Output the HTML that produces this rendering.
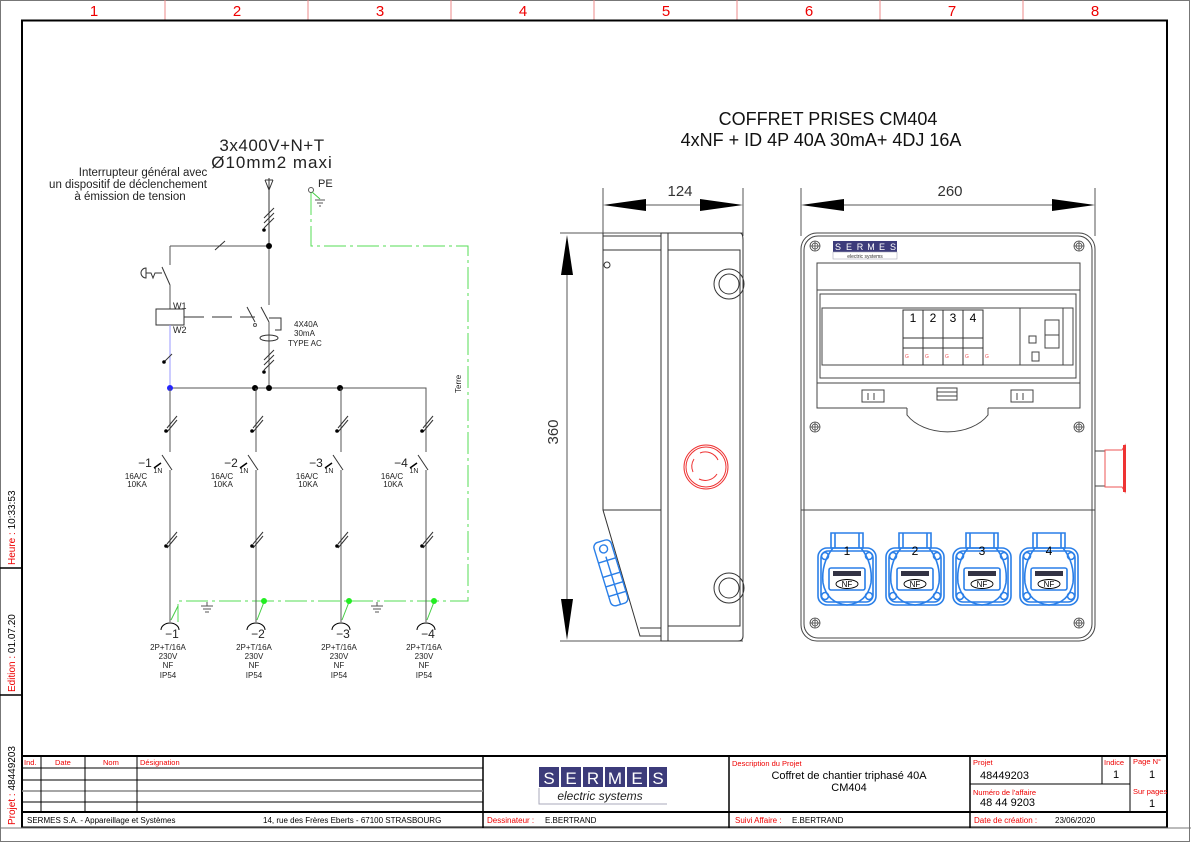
<!DOCTYPE html>
<html><head><meta charset="utf-8"><style>
html,body{margin:0;padding:0;background:#fff}
svg{display:block}
text{font-family:"Liberation Sans",sans-serif}
</style></head><body>
<svg width="1191" height="842" viewBox="0 0 1191 842" xmlns="http://www.w3.org/2000/svg">
<defs>
<g id="br" fill="none" stroke="#555" stroke-width="1">
 <line x1="0" y1="388" x2="0" y2="452"/>
 <line x1="-3" y1="432" x2="7" y2="420" stroke="#333"/><line x1="-3" y1="428" x2="7" y2="416" stroke="#333"/>
 <circle cx="-4" cy="431" r="1.8" fill="#000" stroke="none"/>
 <line x1="-8" y1="455" x2="2" y2="470" stroke="#333"/>
 <path d="M-16 468 L-9 463" stroke="#000" stroke-width="1.5"/>
 <line x1="0" y1="470" x2="0" y2="622"/>
 <line x1="-3" y1="548" x2="7" y2="536" stroke="#333"/><line x1="-3" y1="544" x2="7" y2="532" stroke="#333"/>
 <circle cx="-4" cy="546" r="1.8" fill="#000" stroke="none"/>
 <path d="M-9 630 A9 7 0 0 1 9 630" stroke="#000"/>
</g>
<g id="screw" fill="none" stroke="#444" stroke-width="0.8">
 <circle r="5"/><circle r="3"/><line x1="-5" y1="0" x2="5" y2="0"/><line x1="0" y1="-5" x2="0" y2="5"/>
</g>
<g id="sock" fill="none" stroke="#2a7fe8" stroke-width="1.6">
 <rect x="-29" y="15" width="58" height="57" rx="9"/>
 <rect x="-26" y="18" width="52" height="51" rx="7"/>
 <path d="M-16 0 H16 V15 H-16 Z"/>
 <path d="M-12 0 V15 M12 0 V15"/>
 <circle cx="-22" cy="23" r="3.5"/><circle cx="22" cy="23" r="3.5"/>
 <circle cx="-22" cy="63" r="3.5"/><circle cx="22" cy="63" r="3.5"/>
 <path d="M-14 15 Q-26 30 -24 50 Q-20 70 0 72 Q20 70 24 50 Q26 30 14 15"/>
 <rect x="-18" y="35" width="36" height="22" rx="2"/>
 <rect x="-14" y="38" width="28" height="5" fill="#334" stroke="none"/>
 <ellipse cx="0" cy="51" rx="11" ry="4.5" stroke="#000" stroke-width="0.9"/>
</g>
</defs>

<rect x="0.5" y="0.5" width="1189" height="841" fill="none" stroke="#777" stroke-width="1"/>
<g stroke="#e88" stroke-width="1">
 <line x1="165" y1="0" x2="165" y2="20"/><line x1="308" y1="0" x2="308" y2="20"/><line x1="451" y1="0" x2="451" y2="20"/>
 <line x1="594" y1="0" x2="594" y2="20"/><line x1="737" y1="0" x2="737" y2="20"/><line x1="880" y1="0" x2="880" y2="20"/><line x1="1023" y1="0" x2="1023" y2="20"/>
</g>
<g fill="#e00" font-size="15" text-anchor="middle">
 <text x="94" y="16">1</text><text x="237" y="16">2</text><text x="380" y="16">3</text><text x="523" y="16">4</text>
 <text x="666" y="16">5</text><text x="809" y="16">6</text><text x="952" y="16">7</text><text x="1095" y="16">8</text>
</g>
<rect x="22" y="20.5" width="1145" height="807" fill="none" stroke="#000" stroke-width="2"/>
<line x1="0" y1="828" x2="1191" y2="828" stroke="#777"/>
<g stroke="#000" stroke-width="1.5"><line x1="0" y1="568" x2="22" y2="568"/><line x1="0" y1="695" x2="22" y2="695"/></g>
<g font-size="10">
 <text transform="translate(15,565) rotate(-90)"><tspan fill="#e00">Heure :  </tspan><tspan fill="#000"> 10:33:53</tspan></text>
 <text transform="translate(15,692) rotate(-90)"><tspan fill="#e00">Edition :  </tspan><tspan fill="#000"> 01.07.20</tspan></text>
 <text transform="translate(15,825) rotate(-90)"><tspan fill="#e00">Projet : </tspan><tspan fill="#000">48449203</tspan></text>
</g>

<g fill="none" stroke="#000" stroke-width="1">
 <line x1="22" y1="756" x2="1167" y2="756" stroke-width="2"/>
 <line x1="22" y1="812" x2="1167" y2="812" stroke-width="2"/>
 <line x1="483" y1="756" x2="483" y2="828" stroke-width="1.5"/>
 <line x1="729" y1="756" x2="729" y2="828" stroke-width="1.5"/>
 <line x1="970" y1="756" x2="970" y2="828" stroke-width="1.5"/>
 <line x1="22" y1="768" x2="483" y2="768"/>
 <line x1="22" y1="780" x2="483" y2="780"/>
 <line x1="22" y1="791" x2="483" y2="791" stroke="#888" stroke-width="1.5"/>
 <line x1="22" y1="802" x2="483" y2="802"/>
 <line x1="41" y1="756" x2="41" y2="812"/>
 <line x1="85" y1="756" x2="85" y2="812"/>
 <line x1="137" y1="756" x2="137" y2="812"/>
 <line x1="970" y1="784" x2="1130" y2="784"/>
 <line x1="1102" y1="756" x2="1102" y2="784"/>
 <line x1="1130" y1="756" x2="1130" y2="812"/>
</g>
<g fill="#e00" font-size="7.5">
 <text x="24" y="765">Ind.</text><text x="55" y="765">Date</text><text x="103" y="765">Nom</text><text x="140" y="765">Désignation</text>
 <text x="732" y="766">Description du Projet</text>
 <text x="973" y="765">Projet</text>
 <text x="1104" y="765">Indice</text><text x="1133" y="764">Page N°</text>
 <text x="973" y="795">Numéro de l'affaire</text><text x="1133" y="794">Sur pages</text>
 <text x="487" y="823" font-size="8">Dessinateur :</text>
 <text x="735" y="823" font-size="8">Suivi Affaire :</text>
 <text x="974" y="823" font-size="8">Date de création :</text>
</g>
<g fill="#000" font-size="8">
 <text x="27" y="823">SERMES S.A. - Appareillage et Systèmes</text>
 <text x="263" y="823">14, rue des Frères Eberts - 67100 STRASBOURG</text>
 <text x="545" y="823">E.BERTRAND</text>
 <text x="792" y="823">E.BERTRAND</text>
 <text x="1055" y="823">23/06/2020</text>
</g>
<g fill="#000" font-size="11">
 <text x="849" y="779" text-anchor="middle">Coffret de chantier triphasé 40A</text>
 <text x="849" y="791" text-anchor="middle">CM404</text>
 <text x="980" y="779">48449203</text>
 <text x="980" y="806">48 44 9203</text>
 <text x="1116" y="778" text-anchor="middle">1</text>
 <text x="1152" y="778" text-anchor="middle">1</text>
 <text x="1152" y="807" text-anchor="middle">1</text>
</g>
<g>
 <rect x="539" y="767" width="128" height="20" fill="#fff"/>
 <g fill="#3c3b7a">
  <rect x="539" y="767" width="20" height="20"/><rect x="561" y="767" width="20" height="20"/><rect x="583" y="767" width="20" height="20"/>
  <rect x="605" y="767" width="20" height="20"/><rect x="627" y="767" width="20" height="20"/><rect x="649" y="767" width="18" height="20"/>
 </g>
 <g fill="#fff" font-size="17" text-anchor="middle">
  <text x="549" y="784">S</text><text x="571" y="784">E</text><text x="593" y="784">R</text><text x="615" y="784">M</text><text x="637" y="784">E</text><text x="658" y="784">S</text>
 </g>
 <path d="M539 788 V804 H667" fill="none" stroke="#aab" stroke-width="1"/>
 <text x="600" y="800" font-size="12" font-style="italic" text-anchor="middle" fill="#222">electric systems</text>
</g>

<g fill="#222">
 <text x="272" y="151" font-size="17" text-anchor="middle" letter-spacing="0.5">3x400V+N+T</text>
 <text x="272" y="168" font-size="17" text-anchor="middle" letter-spacing="1">Ø10mm2  maxi</text>
 <text x="143" y="176" font-size="11.5" text-anchor="middle">Interrupteur général avec</text>
 <text x="128" y="188" font-size="11.5" text-anchor="middle">un dispositif de déclenchement</text>
 <text x="130" y="200" font-size="11.5" text-anchor="middle">à émission de tension</text>
 <text x="318" y="187" font-size="11">PE</text>
 <text x="294" y="327" font-size="8">4X40A</text>
 <text x="294" y="336" font-size="8">30mA</text>
 <text x="288" y="346" font-size="8">TYPE  AC</text>
 <text x="173" y="309" font-size="9">W1</text>
 <text x="173" y="333" font-size="9">W2</text>
 <text transform="translate(461,393) rotate(-90)" font-size="8">Terre</text>
</g>
<g fill="none" stroke="#555" stroke-width="1">
 <path d="M265 180 L269 190 L273 180 M265 180 H273 M269 178 V246" stroke="#333"/>
 <path d="M264 218 L274 208 M264 223 L274 213 M264 228 L274 218" stroke="#333"/>
 <line x1="269" y1="246" x2="269" y2="305"/>
 <line x1="170" y1="246" x2="269" y2="246"/>
 <line x1="215" y1="250" x2="225" y2="241" stroke="#333"/>
 <line x1="170" y1="246" x2="170" y2="265"/>
 <line x1="162" y1="267" x2="170" y2="285" stroke="#333"/>
 <path d="M146 268 A5 5 0 0 0 146 278 Z M146 273 H151 L153 278 L155 273 H162" stroke="#333"/>
 <line x1="170" y1="285" x2="170" y2="309"/>
 <rect x="156" y="309" width="28" height="16" stroke="#333"/>
 <path d="M184 317 H204 M212 317 H232 M240 317 H255" stroke="#333"/>
 <line x1="170" y1="325" x2="170" y2="388" stroke="#99f"/>
 <line x1="164" y1="362" x2="172" y2="354" stroke="#333"/>
 <line x1="247" y1="307" x2="255" y2="322" stroke="#333"/><circle cx="255" cy="325" r="1.5"/>
 <line x1="261" y1="307" x2="269" y2="322" stroke="#333"/>
 <path d="M269 318 H281 V330 H275" stroke="#333"/>
 <line x1="269" y1="322" x2="269" y2="388"/>
 <ellipse cx="269" cy="338" rx="9" ry="3" stroke="#333"/>
 <path d="M264 360 L274 350 M264 365 L274 355 M264 370 L274 360" stroke="#333"/>
 <path d="M170 388 H426 V420"/>
</g>
<g fill="#000">
 <circle cx="269" cy="246" r="3"/><circle cx="264" cy="230" r="1.8"/><circle cx="264" cy="372" r="1.8"/>
 <circle cx="164" cy="362" r="1.8"/>
 <circle cx="255" cy="388" r="3"/><circle cx="269" cy="388" r="3"/><circle cx="340" cy="388" r="3"/>
 <circle cx="170" cy="388" r="3" fill="#22f"/>
</g>
<g fill="none" stroke="#4c4" stroke-width="1">
 <circle cx="311" cy="190" r="2.5" stroke="#555"/>
 <line x1="312" y1="192" x2="320" y2="199"/>
 <path d="M315 200 H325 M317 203 H323 M319 206 H321" stroke="#555"/>
 <path d="M311 193 V246 H468 V601 H178 V622" stroke="#5d5" stroke-dasharray="22 4 3 4"/>
 <path d="M201 606 H213 M203 609 H211 M205 612 H209 M207 602 V606" stroke="#555"/>
 <path d="M371 606 H383 M373 609 H381 M375 612 H379 M377 602 V606" stroke="#555"/>
 <line x1="178" y1="606" x2="171" y2="620"/>
 <line x1="264" y1="602" x2="257" y2="620"/>
 <line x1="349" y1="602" x2="342" y2="620"/>
 <line x1="434" y1="602" x2="427" y2="620"/>
</g>
<g fill="#2e2"><circle cx="264" cy="601" r="3"/><circle cx="349" cy="601" r="3"/><circle cx="434" cy="601" r="3"/></g>
<use href="#br" x="170"/><use href="#br" x="256"/><use href="#br" x="341"/><use href="#br" x="426"/>
<g fill="#222" font-size="8" text-anchor="middle">
 <g font-size="12"><text x="145" y="467">−1</text><text x="231" y="467">−2</text><text x="316" y="467">−3</text><text x="401" y="467">−4</text></g>
 <text x="158" y="473" font-size="7">1N</text><text x="244" y="473" font-size="7">1N</text><text x="329" y="473" font-size="7">1N</text><text x="414" y="473" font-size="7">1N</text>
 <text x="136" y="479">16A/C</text><text x="137" y="487">10KA</text>
 <text x="222" y="479">16A/C</text><text x="223" y="487">10KA</text>
 <text x="307" y="479">16A/C</text><text x="308" y="487">10KA</text>
 <text x="392" y="479">16A/C</text><text x="393" y="487">10KA</text>
 <g font-size="12"><text x="172" y="638">−1</text><text x="258" y="638">−2</text><text x="343" y="638">−3</text><text x="428" y="638">−4</text></g>
 <text x="168" y="650">2P+T/16A</text><text x="168" y="659">230V</text><text x="168" y="668">NF</text><text x="168" y="678">IP54</text>
 <text x="254" y="650">2P+T/16A</text><text x="254" y="659">230V</text><text x="254" y="668">NF</text><text x="254" y="678">IP54</text>
 <text x="339" y="650">2P+T/16A</text><text x="339" y="659">230V</text><text x="339" y="668">NF</text><text x="339" y="678">IP54</text>
 <text x="424" y="650">2P+T/16A</text><text x="424" y="659">230V</text><text x="424" y="668">NF</text><text x="424" y="678">IP54</text>
</g>

<text x="828" y="125" font-size="18" text-anchor="middle" fill="#111">COFFRET PRISES CM404</text>
<text x="821" y="146" font-size="18" text-anchor="middle" fill="#111">4xNF + ID 4P 40A 30mA+ 4DJ 16A</text>

<g fill="none" stroke="#555" stroke-width="1">
 <line x1="603" y1="188" x2="603" y2="236"/><line x1="743" y1="188" x2="743" y2="236"/>
 <line x1="645" y1="205" x2="700" y2="205"/>
 <line x1="567" y1="275" x2="567" y2="600"/>
 <line x1="560" y1="233" x2="743" y2="233"/>
 <line x1="560" y1="641" x2="743" y2="641"/>
</g>
<g fill="#000">
 <polygon points="603,205 646,199 646,211"/><polygon points="743,205 700,199 700,211"/>
 <polygon points="567,235 561,275 573,275"/><polygon points="567,640 561,599 573,599"/>
</g>
<text x="680" y="196" font-size="15" text-anchor="middle" fill="#333">124</text>
<text transform="translate(558,432) rotate(-90)" font-size="15" text-anchor="middle" fill="#333">360</text>
<g fill="none" stroke="#333" stroke-width="1">
 <path d="M603 233 V510 L640 636 H661"/>
 <path d="M603 236 H661 M603 250 H661 M603 510 H661 M640 628 H661"/>
 <rect x="661" y="233" width="7" height="408"/>
 <path d="M668 233 H740 Q743 233 743 240 V636 Q743 641 738 641 H668"/>
 <path d="M668 250 H740 V626 H668"/>
 <circle cx="607" cy="265" r="3"/>
 <circle cx="729" cy="284" r="15"/><circle cx="729" cy="284" r="10"/>
 <circle cx="729" cy="588" r="15"/><circle cx="729" cy="588" r="10"/>
</g>
<g fill="none" stroke="#e33" stroke-width="1">
 <circle cx="706" cy="467" r="22"/><circle cx="706" cy="467" r="20"/>
 <path d="M700 453 A14 14 0 0 1 718 460 M717 474 A14 14 0 0 1 699 479 M693 472 A14 14 0 0 1 694 459"/>
</g>
<g fill="none" stroke="#2a7fe8" stroke-width="1.4" transform="rotate(-17 610 570)">
 <rect x="601" y="540" width="18" height="66" rx="5"/>
 <circle cx="610" cy="548" r="4"/>
 <path d="M601 560 H619 M601 575 H619 M601 585 H619 M601 595 H619 M610 556 V606"/>
</g>

<g fill="none" stroke="#555" stroke-width="1">
 <line x1="801" y1="188" x2="801" y2="236"/><line x1="1095" y1="188" x2="1095" y2="236"/>
 <line x1="843" y1="205" x2="1053" y2="205"/>
</g>
<g fill="#000"><polygon points="801,205 844,199 844,211"/><polygon points="1095,205 1052,199 1052,211"/></g>
<text x="950" y="196" font-size="15" text-anchor="middle" fill="#333">260</text>
<g fill="none" stroke="#444" stroke-width="1">
 <rect x="801" y="233" width="294" height="408" rx="16"/>
 <rect x="804" y="236" width="288" height="402" rx="14"/>
 <line x1="801" y1="510" x2="1095" y2="510"/>
 <rect x="817" y="263" width="263" height="120"/>
 <rect x="817" y="290" width="263" height="93"/>
 <rect x="820" y="294" width="256" height="84"/>
 <rect x="822" y="308" width="251" height="57"/>
 <line x1="1063" y1="308" x2="1063" y2="365"/>
 <line x1="1020" y1="308" x2="1020" y2="365"/>
 <path d="M817 383 V408 H907 M988 408 H1080 V383"/>
 <path d="M907 408 V415 A46 32 0 0 0 988 415 V408"/>
 <rect x="862" y="390" width="22" height="12"/><path d="M868 393 V400 M874 393 V400" />
 <rect x="1011" y="390" width="22" height="12"/><path d="M1017 393 V400 M1023 393 V400"/>
 <rect x="937" y="388" width="20" height="12"/><path d="M937 392 H957 M937 396 H957"/>
 <rect x="1045" y="320" width="14" height="28"/><line x1="1045" y1="335" x2="1059" y2="335"/>
 <rect x="1029" y="336" width="7" height="7"/>
 <rect x="1032" y="352" width="7" height="9"/>
</g>
<g fill="none" stroke="#333" stroke-width="1">
 <rect x="903" y="310" width="20" height="55"/><rect x="923" y="310" width="20" height="55"/>
 <rect x="943" y="310" width="20" height="55"/><rect x="963" y="310" width="20" height="55"/>
 <path d="M903 338 H983 M903 348 H983"/>
</g>
<g font-size="12" fill="#000" text-anchor="middle"><text x="913" y="322">1</text><text x="933" y="322">2</text><text x="953" y="322">3</text><text x="973" y="322">4</text></g>
<g fill="#e55" font-size="5"><text x="905" y="358">G</text><text x="925" y="358">G</text><text x="945" y="358">G</text><text x="965" y="358">G</text><text x="985" y="358">G</text></g>
<g fill="#3c3b7a"><rect x="833" y="241" width="64" height="11"/></g>
<g fill="#fff" font-size="9" text-anchor="middle"><text x="838" y="250">S</text><text x="849" y="250">E</text><text x="860" y="250">R</text><text x="871" y="250">M</text><text x="882" y="250">E</text><text x="893" y="250">S</text></g>
<rect x="833" y="252" width="64" height="7" fill="none" stroke="#aab" stroke-width="0.6"/>
<text x="865" y="258" font-size="5" text-anchor="middle" fill="#333">electric systems</text>
<use href="#screw" x="815" y="246"/><use href="#screw" x="1079" y="246"/>
<use href="#screw" x="815" y="427"/><use href="#screw" x="1079" y="427"/>
<use href="#screw" x="815" y="623"/><use href="#screw" x="1079" y="623"/>
<g fill="none" stroke-width="1">
 <rect x="1095" y="451" width="10" height="35" stroke="#444"/>
 <path d="M1105 450 H1122 L1125 445 V492 L1122 487 H1105 Z" stroke="#e55"/>
 <rect x="1123" y="445" width="3" height="47" fill="#e33" stroke="none"/>
</g>
<use href="#sock" x="847" y="533"/><use href="#sock" x="915" y="533"/>
<use href="#sock" x="982" y="533"/><use href="#sock" x="1049" y="533"/>
<g font-size="12" fill="#000" text-anchor="middle"><text x="847" y="555">1</text><text x="915" y="555">2</text><text x="982" y="555">3</text><text x="1049" y="555">4</text></g>
<g font-size="8" fill="#000" text-anchor="middle"><text x="847" y="587">NF</text><text x="915" y="587">NF</text><text x="982" y="587">NF</text><text x="1049" y="587">NF</text></g>
</svg>
</body></html>
